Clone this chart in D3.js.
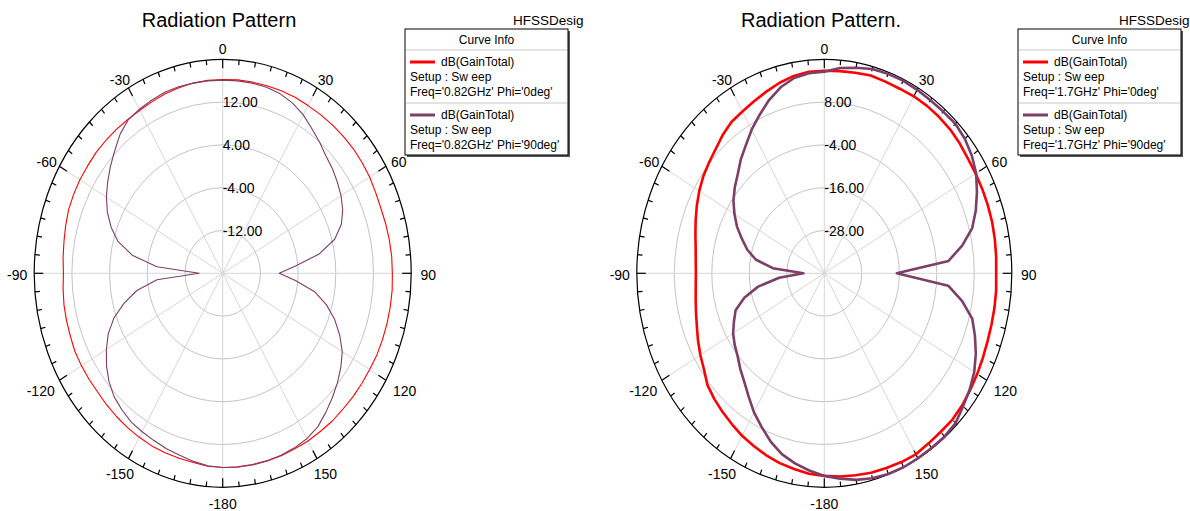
<!DOCTYPE html>
<html>
<head>
<meta charset="utf-8">
<script src="https://cdn.jsdelivr.net/npm/d3@7"></script>
<style>
  body { margin: 0; background: #fff; }
  text { font-family: "Liberation Sans", Arial, sans-serif; fill: #000; }
</style>
</head>
<body>
<script>
// theta in degrees (HFSS sweep, 5 deg step)
var theta = [-180,-175,-170,-165,-160,-155,-150,-145,-140,-135,-130,-125,-120,-115,-110,-105,-100,-95,
  -90,-85,-80,-75,-70,-65,-60,-55,-50,-45,-40,-35,-30,-25,-20,-15,-10,-5,
  0,5,10,15,20,25,30,35,40,45,50,55,60,65,70,75,80,85,
  90,95,100,105,110,115,120,125,130,135,140,145,150,155,160,165,170,175,180];

// 0.82 GHz, dB(GainTotal)
var gain082Phi0 = [16.3,16.2,15.9,15.8,15.7,15.6,15.4,15.2,15.0,14.8,14.6,14.6,14.6,14.6,14.4,14.3,14.2,14.0,
  13.8,14.0,14.2,14.5,14.8,14.9,15.0,15.0,15.1,15.1,15.1,15.1,15.2,15.4,15.7,15.9,16.1,16.2,
  16.2,16.3,16.3,16.3,16.3,16.3,16.2,16.2,16.2,16.2,16.2,16.1,16.0,15.8,15.7,15.8,15.9,16.0,
  16.0,16.1,16.1,16.1,16.1,16.1,16.0,16.0,16.0,16.0,16.1,16.1,16.2,16.2,16.3,16.3,16.3,16.3,16.3];
var gain082Phi90 = [16.3,16.1,15.7,15.2,14.9,14.5,14.2,13.9,13.3,12.6,11.5,10.1,8.5,6.8,4.6,1.7,-1.5,-6.0,
  -15.0,-6.0,-0.5,3.0,5.2,7.0,8.5,9.8,11.1,12.4,13.9,15.0,15.4,15.7,16.0,16.1,16.1,16.1,
  16.1,16.1,16.1,16.0,15.7,15.1,14.2,13.0,12.0,11.0,10.4,9.7,9.0,8.1,6.8,4.6,0.8,-4.5,
  -8.0,-4.5,-0.2,2.8,5.3,7.4,9.3,10.6,11.8,12.9,14.0,15.1,15.7,16.0,16.2,16.3,16.4,16.4,16.3];

// 1.7 GHz, dB(GainTotal)
var gain17Phi0 = [16.8,16.4,15.7,15.1,14.3,13.4,12.6,11.6,10.7,9.8,8.8,7.0,5.8,4.6,3.4,2.5,1.8,1.3,
  1.1,1.3,1.8,2.7,3.8,5.0,6.2,7.3,8.2,9.2,10.6,11.8,12.4,13.2,14.2,15.3,16.2,16.7,
  16.8,16.9,17.1,17.4,17.2,17.1,17.3,17.3,17.2,17.0,16.6,16.1,15.9,15.8,15.7,15.6,15.4,15.2,
  15.0,15.2,15.3,15.4,15.6,16.0,16.5,17.0,17.6,18.0,18.0,18.2,18.6,18.4,18.1,17.9,17.5,17.2,16.8];
var gain17Phi90 = [16.8,15.5,14.1,12.5,10.2,7.5,5.0,2.2,-0.2,-2.0,-3.8,-5.0,-6.3,-8.1,-9.8,-13.5,-18.5,-25.5,
  -33.3,-23.5,-17.7,-14.5,-12.0,-9.2,-6.8,-4.5,-2.6,-0.8,1.6,3.8,6.5,9.0,11.7,14.0,15.6,16.3,
  16.5,17.8,18.5,19.3,19.5,19.6,19.4,19.2,19.2,19.3,18.7,17.6,16.1,13.9,11.6,9.0,4.8,-0.1,
  -16.8,-0.2,4.8,9.0,11.3,13.5,15.4,16.8,18.0,19.4,19.8,19.8,19.9,20.0,19.9,19.5,18.8,17.8,16.8];

var angleLabels = [0, 30, 60, 90, 120, 150, -180, -150, -120, -90, -60, -30];
var ringLabels082 = ["12.00", "4.00", "-4.00", "-12.00"];
var ringLabels17 = ["8.00", "-4.00", "-16.00", "-28.00"];
var curveNames = ["dB(GainTotal)", "dB(GainTotal)"];
var phiNames = ["0deg", "90deg"];

var colors = ["#ff0000", "#7b3f68"];

var svg = d3.select("body")
    .append("svg")
    .attr("width", 1190)
    .attr("height", 511);

svg.append("rect").attr("width", 1190).attr("height", 511).attr("fill", "white");

var panels = [
  { id: "p1", clipX: 0, clipW: 584, cx: 222.7, cy: 273.3, rx: 188.5, ry: 214, domain: [-20, 20],
    rings: ringLabels082, series: [gain082Phi0, gain082Phi90], lw: 1.1,
    title: "Radiation Pattern", titleX: 219, legendX: 405, designX: 513, freq: "0.82GHz" },
  { id: "p2", clipX: 600, clipW: 590, cx: 824.3, cy: 273.3, rx: 187.5, ry: 214, domain: [-40, 20],
    rings: ringLabels17, series: [gain17Phi0, gain17Phi90], lw: 2.6,
    title: "Radiation Pattern.", titleX: 821, legendX: 1018, designX: 1119, freq: "1.7GHz" }
];

function drawPanel(p) {
  svg.append("clipPath").attr("id", "clip-" + p.id)
    .append("rect").attr("x", p.clipX).attr("y", 0).attr("width", p.clipW).attr("height", 511);

  var g = svg.append("g").attr("clip-path", "url(#clip-" + p.id + ")");

  var r = d3.scaleLinear().domain(p.domain).range([0, 1]).clamp(true);
  var px = function(f, deg) { return p.cx + f * p.rx * Math.sin(deg * Math.PI / 180); };
  var py = function(f, deg) { return p.cy - f * p.ry * Math.cos(deg * Math.PI / 180); };

  // grey rings
  g.selectAll(".ring")
    .data([0.2, 0.4, 0.6, 0.8])
    .enter()
    .append("ellipse")
    .attr("cx", p.cx).attr("cy", p.cy)
    .attr("rx", function(d) { return d * p.rx; })
    .attr("ry", function(d) { return d * p.ry; })
    .attr("fill", "none")
    .attr("stroke", "#c4c4c4")
    .attr("stroke-width", 1);

  // spokes
  g.selectAll(".spoke")
    .data(d3.range(0, 360, 30))
    .enter()
    .append("line")
    .attr("x1", p.cx).attr("y1", p.cy)
    .attr("x2", function(d) { return px(1, d); })
    .attr("y2", function(d) { return py(1, d); })
    .attr("stroke", "#d6d6d6")
    .attr("stroke-width", 1);

  // outer ring
  g.append("ellipse")
    .attr("cx", p.cx).attr("cy", p.cy)
    .attr("rx", p.rx).attr("ry", p.ry)
    .attr("fill", "none")
    .attr("stroke", "black")
    .attr("stroke-width", 1.2);

  // ticks
  g.selectAll(".tick")
    .data(d3.range(0, 360, 5))
    .enter()
    .append("line")
    .attr("x1", function(d) { return px(1, d); })
    .attr("y1", function(d) { return py(1, d); })
    .attr("x2", function(d) {
      var len = d % 30 === 0 ? 9 : 5;
      var dist = Math.hypot(px(1, d) - p.cx, py(1, d) - p.cy);
      return px(1 - len / dist, d);
    })
    .attr("y2", function(d) {
      var len = d % 30 === 0 ? 9 : 5;
      var dist = Math.hypot(px(1, d) - p.cx, py(1, d) - p.cy);
      return py(1 - len / dist, d);
    })
    .attr("stroke", "black")
    .attr("stroke-width", 1.2);

  // angle labels
  g.selectAll(".alabel")
    .data(angleLabels)
    .enter()
    .append("text")
    .text(function(d) { return d; })
    .attr("x", function(d) {
      var s = Math.sin(d * Math.PI / 180);
      return p.cx + (p.rx + 17) * s + (Math.abs(s) > 0.6 && Math.abs(s) < 0.95 ? (Math.cos(d * Math.PI / 180) < 0 ? 4 * Math.sign(s) : -2 * Math.sign(s)) : 0);
    })
    .attr("y", function(d) {
      var c = Math.cos(d * Math.PI / 180);
      return p.cy - (p.ry + 12) * c + (c < -0.1 ? 5 : 2);
    })
    .attr("text-anchor", "middle")
    .attr("dominant-baseline", "central")
    .attr("font-size", "14px");

  // ring labels
  g.selectAll(".rlabel")
    .data(p.rings)
    .enter()
    .append("text")
    .text(function(d) { return d; })
    .attr("x", p.cx)
    .attr("y", function(d) { return p.cy - r(+d) * p.ry; })
    .attr("dominant-baseline", "central")
    .attr("font-size", "14px");

  // curves
  var line = d3.line()
    .x(function(d, i) { return px(r(d), theta[i]); })
    .y(function(d, i) { return py(r(d), theta[i]); });

  g.selectAll(".curve")
    .data(p.series)
    .enter()
    .append("path")
    .attr("d", line)
    .attr("fill", "none")
    .attr("stroke", function(d, i) { return colors[i]; })
    .attr("stroke-width", p.lw)
    .attr("stroke-linejoin", "round");

  // title
  g.append("text")
    .text(p.title)
    .attr("x", p.titleX).attr("y", 27)
    .attr("text-anchor", "middle")
    .attr("font-size", "20px");

  g.append("text")
    .text("HFSSDesign1")
    .attr("x", p.designX).attr("y", 25)
    .attr("font-size", "13.5px");

  // legend
  var lx = p.legendX, ly = 29, lw = 163, lh = 126;
  g.append("rect")
    .attr("x", lx + 2).attr("y", ly + 2).attr("width", lw).attr("height", lh)
    .attr("fill", "#555");
  g.append("rect")
    .attr("x", lx).attr("y", ly).attr("width", lw).attr("height", lh)
    .attr("fill", "white").attr("stroke", "black").attr("stroke-width", 1);
  g.append("text")
    .text("Curve Info")
    .attr("x", lx + lw / 2).attr("y", ly + 15)
    .attr("text-anchor", "middle")
    .attr("font-size", "12px");
  g.selectAll(".sep")
    .data([21, 74])
    .enter()
    .append("line")
    .attr("x1", lx + 1).attr("x2", lx + lw - 1)
    .attr("y1", function(d) { return ly + d; })
    .attr("y2", function(d) { return ly + d; })
    .attr("stroke", "#c8c8c8");

  var entries = g.selectAll(".entry")
    .data(curveNames)
    .enter()
    .append("g")
    .attr("transform", function(d, i) { return "translate(" + lx + "," + (ly + 33 + i * 53) + ")"; });
  entries.append("line")
    .attr("x1", 5).attr("x2", 30).attr("y1", 0).attr("y2", 0)
    .attr("stroke", function(d, i) { return colors[i]; })
    .attr("stroke-width", 3);
  entries.append("text")
    .text(function(d) { return d; })
    .attr("x", 36).attr("y", 4)
    .attr("font-size", "12px");
  entries.append("text")
    .text("Setup : Sw eep")
    .attr("x", 5).attr("y", 19)
    .attr("font-size", "12px");
  entries.append("text")
    .text(function(d, i) { return "Freq='" + p.freq + "' Phi='" + phiNames[i] + "'"; })
    .attr("x", 5).attr("y", 34)
    .attr("font-size", "12px");
}

panels.forEach(drawPanel);
</script>
</body>
</html>
